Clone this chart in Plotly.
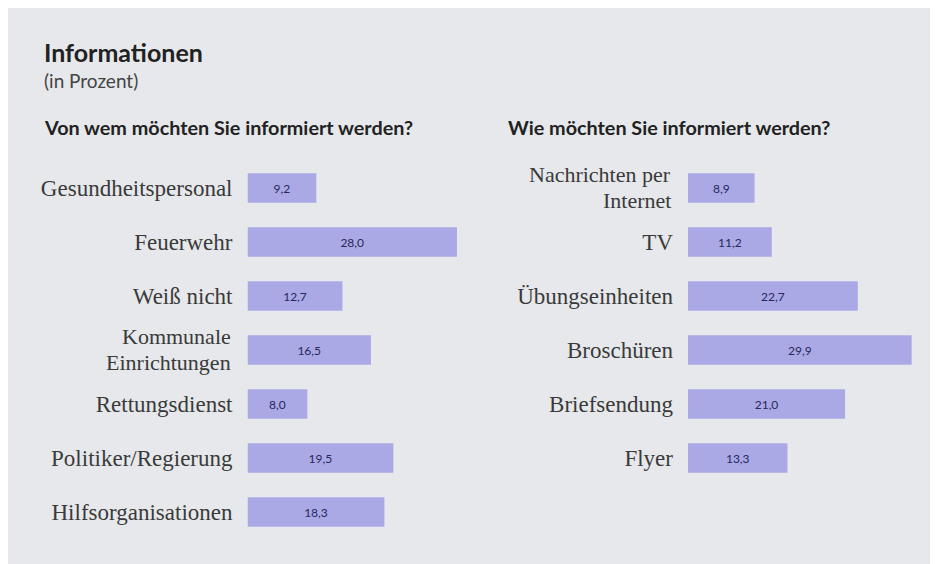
import plotly.graph_objects as go

# data (in Prozent)
wer_labels = ["Gesundheitspersonal", "Feuerwehr", "Weiß nicht", "Kommunale<br>Einrichtungen",
              "Rettungsdienst", "Politiker/Regierung", "Hilfsorganisationen"]
wer_values = [9.2, 28.0, 12.7, 16.5, 8.0, 19.5, 18.3]

wie_labels = ["Nachrichten per<br>Internet", "TV", "Übungseinheiten", "Broschüren",
              "Briefsendung", "Flyer"]
wie_values = [8.9, 11.2, 22.7, 29.9, 21.0, 13.3]

W, H = 938, 564
OFF = 8  # page body margin pushes the plot 8px right/down
BAR = "#aaa8e5"
BG = "#e6e8eb"
SERIF = "Liberation Serif"
SANS = "Lato"
LABEL_FONT = dict(family=SERIF, size=23, color="#3a3a3a")
WRAP_FONT = dict(family=SERIF, size=22, color="#3a3a3a")

def px(x):
    return (x - OFF) / W

def py(y):
    return 1 - (y - OFF) / H

fig = go.Figure()

for vals, labs, xa, ya in [(wer_values, wer_labels, "x", "y"), (wie_values, wie_labels, "x2", "y2")]:
    fig.add_trace(go.Bar(
        x=vals, y=labs, orientation="h", width=0.55,
        marker=dict(color=BAR, line=dict(width=0)),
        texttemplate="%{x:.1f}", textposition="inside", insidetextanchor="middle",
        textfont=dict(family=SANS, size=12, color="#26285a"),
        xaxis=xa, yaxis=ya, hoverinfo="skip",
    ))
    # two-line labels drawn as separate lines, tighter than plotly's tick line height
    for lab in labs:
        if "<br>" in lab:
            first, second = lab.split("<br>")
            for line, shift in [(first, 13), (second, -13)]:
                fig.add_annotation(text=line, x=0, y=lab, xref=xa, yref=ya,
                                   xanchor="right", yanchor="middle", xshift=-15, yshift=shift,
                                   showarrow=False, font=WRAP_FONT)

# 7.48 px per percent point on both sides
xr = [0, 30]
scale = 7.48
ydom = [py(539), py(161)]

axis_x = dict(range=xr, showgrid=False, zeroline=False, showticklabels=False,
              showline=False, fixedrange=True)
axis_y = dict(type="category", range=[6.5, -0.5], showgrid=False, zeroline=False,
              showline=False, ticks="", ticklabelstandoff=14,
              tickfont=LABEL_FONT, domain=ydom)

fig.update_layout(
    width=W, height=H,
    margin=dict(l=0, r=0, t=0, b=0),
    paper_bgcolor="white", plot_bgcolor="rgba(0,0,0,0)",
    showlegend=False, separators=",.",
    xaxis=dict(axis_x, domain=[px(247.5), px(247.5 + 30 * scale)]),
    xaxis2=dict(axis_x, domain=[px(688), px(688 + 30 * scale)], anchor="y2"),
    yaxis=dict(axis_y, anchor="x", categoryarray=wer_labels, tickvals=wer_labels,
               ticktext=["" if "<br>" in l else l for l in wer_labels]),
    yaxis2=dict(axis_y, anchor="x2", categoryarray=wie_labels, tickvals=wie_labels,
                ticktext=["" if "<br>" in l else l for l in wie_labels]),
    shapes=[dict(type="rect", xref="paper", yref="paper", x0=0, x1=px(936),
                 y0=0, y1=py(7), fillcolor=BG, line=dict(width=0), layer="below")],
)

notes = [
    ("Informationen", 42, 52, 25, True),
    ("(in Prozent)", 42, 81, 19, False),
    ("Von wem möchten Sie informiert werden?", 42, 127, 19.8, True),
    ("Wie möchten Sie informiert werden?", 506, 127, 19.8, True),
]
for text, x, y, size, bold in notes:
    fig.add_annotation(
        text=f"<b>{text}</b>" if bold else text,
        xref="paper", yref="paper", x=px(x), y=py(y),
        xanchor="left", yanchor="middle", showarrow=False,
        font=dict(family=SANS, size=size, color="#222222" if bold else "#444444"),
    )

fig.write_html("out.html")
